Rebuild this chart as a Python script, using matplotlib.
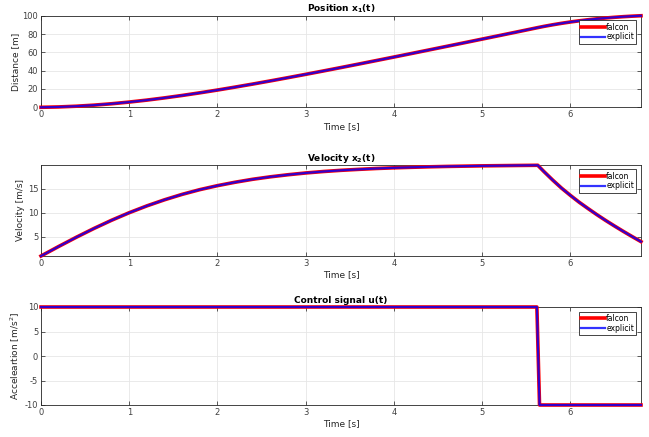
import matplotlib
matplotlib.use("Agg")
import matplotlib.pyplot as plt

# time samples (s)
t = [0.0, 0.2, 0.4, 0.6, 0.8, 1.0, 1.2, 1.4, 1.6, 1.8, 2.0, 2.2, 2.4, 2.6,
     2.8, 3.0, 3.2, 3.4, 3.6, 3.8, 4.0, 4.2, 4.4, 4.6, 4.8, 5.0, 5.2, 5.4,
     5.63, 5.7, 5.8, 5.9, 6.0, 6.1, 6.2, 6.3, 6.4, 6.5, 6.6, 6.7, 6.8]

# position x1 (m)
x1 = [0.0, 0.40, 1.19, 2.35, 3.87, 5.72, 7.86, 10.28, 12.94, 15.80, 18.84,
      22.05, 25.38, 28.83, 32.37, 35.99, 39.67, 43.41, 47.20, 51.03, 54.88,
      58.76, 62.67, 66.59, 70.52, 74.47, 78.42, 82.39, 87.0, 88.35, 90.10,
      91.70, 93.14, 94.42, 95.57, 96.59, 97.49, 98.27, 98.94, 99.50, 99.95]

# velocity x2 (m/s)
x2 = [1.0, 2.98, 4.90, 6.73, 8.44, 10.01, 11.43, 12.70, 13.83, 14.81, 15.64,
      16.35, 16.97, 17.48, 17.91, 18.28, 18.58, 18.83, 19.03, 19.21, 19.35,
      19.46, 19.56, 19.64, 19.70, 19.76, 19.80, 19.84, 19.88, 18.57, 16.79,
      15.12, 13.61, 12.18, 10.87, 9.60, 8.39, 7.24, 6.12, 5.04, 3.99]

# control signal u (m/s^2)
t_u = [0.0, 5.62, 5.65, 6.8]
u = [10, 10, -10, -10]

plt.rcParams['font.family'] = 'DejaVu Sans'
plt.rcParams['font.size'] = 6
plt.rcParams['axes.edgecolor'] = '#262626'
plt.rcParams['xtick.color'] = '#404040'
plt.rcParams['ytick.color'] = '#404040'
plt.rcParams['mathtext.fontset'] = 'dejavusans'
plt.rcParams['axes.unicode_minus'] = False

fig = plt.figure(figsize=(6.49, 4.37), dpi=100)

left = 41 / 649
width = 600 / 649
boxes = [(1 - 107.3 / 437, 91.6 / 437),
         (1 - 256 / 437, 91.3 / 437),
         (1 - 405 / 437, 98 / 437)]

panels = [
    (t, x1, 'Position x$_{\\mathbf{1}}$(t)', 'Distance [m]', (0, 100), [0, 20, 40, 60, 80, 100]),
    (t, x2, 'Velocity x$_{\\mathbf{2}}$(t)', 'Velocity [m/s]', (1, 20), [5, 10, 15]),
    (t_u, u, 'Control signal u(t)', 'Acceleartion [m/s$^2$]', (-10, 10), [-10, -5, 0, 5, 10]),
]

for (bottom, height), (tt, yy, title, ylabel, ylim, yticks) in zip(boxes, panels):
    ax = fig.add_axes([left, bottom, width, height])
    ax.plot(tt, yy, color='red', lw=2.6, label='falcon', clip_on=False, zorder=3)
    ax.plot(tt, yy, color='blue', lw=1.6, alpha=0.8, label='explicit', clip_on=False, zorder=4)
    ax.set_xlim(0, 6.8)
    ax.set_ylim(*ylim)
    ax.set_xticks([0, 1, 2, 3, 4, 5, 6])
    ax.set_yticks(yticks)
    ax.grid(True, color='#e6e6e6', lw=0.6)
    ax.set_axisbelow(True)
    ax.tick_params(direction='in', top=True, right=True, length=3, width=0.6,
                   labelsize=6, pad=2)
    for s in ax.spines.values():
        s.set_linewidth(0.6)
    ax.set_title(title, fontsize=6.5, fontweight='bold', pad=3)
    ax.set_xlabel('Time [s]', fontsize=6.5, color='#262626', labelpad=2)
    ax.set_ylabel(ylabel, fontsize=6.5, color='#262626', labelpad=2)
    leg = ax.legend(loc='upper right', fontsize=5.5, handlelength=3.2,
                    handletextpad=0.1, borderpad=0.3, labelspacing=0.1,
                    fancybox=False, framealpha=1, borderaxespad=0.6)
    leg.get_frame().set_edgecolor('#262626')
    leg.get_frame().set_linewidth(0.6)

fig.savefig('out.png', dpi=100)
